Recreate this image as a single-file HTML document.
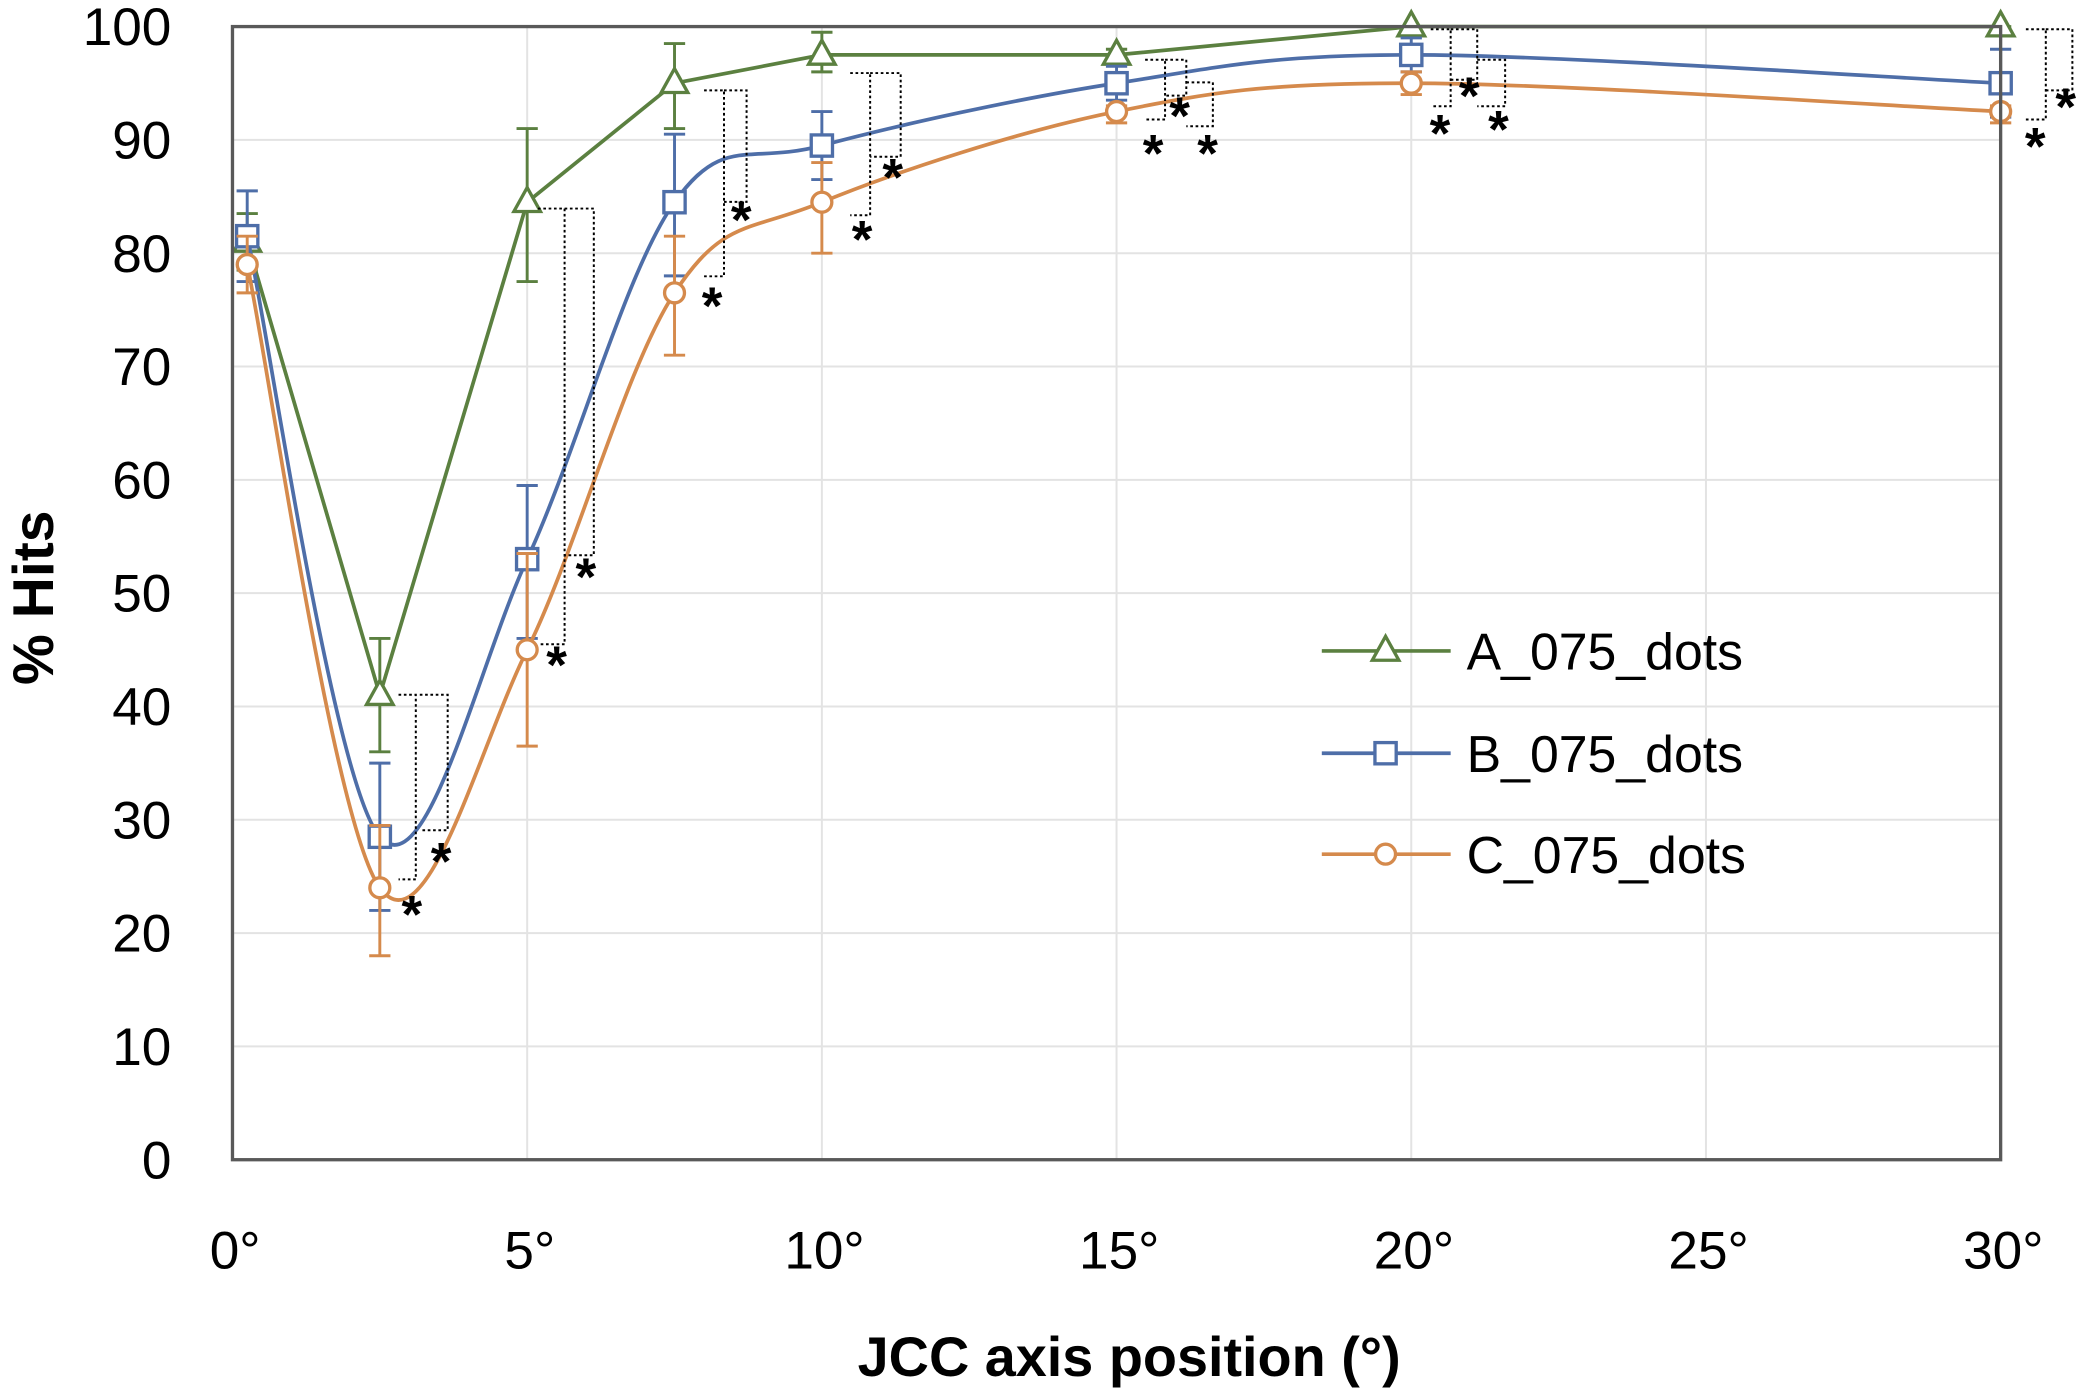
<!DOCTYPE html>
<html><head><meta charset="utf-8"><style>
html,body{margin:0;padding:0;background:#fff;}
svg{display:block;font-family:"Liberation Sans",sans-serif;}
</style></head><body>
<svg id="chart" width="2083" height="1389" viewBox="0 0 1568 1045.6" preserveAspectRatio="none" xmlns="http://www.w3.org/2000/svg"></svg>
<script>
const xPositions = [0.25, 2.5, 5, 7.5, 10, 15, 20, 30];
const seriesNames = ["A_075_dots", "B_075_dots", "C_075_dots"];
const valuesA = [81, 41, 84.5, 95, 97.5, 97.5, 100, 100];
const valuesB = [81.5, 28.5, 53, 84.5, 89.5, 95, 97.5, 95];
const valuesC = [79, 24, 45, 76.5, 84.5, 92.5, 95, 92.5];
const errLowA = [78.5, 36, 77.5, 91, 96, 97, 100, 100];
const errHighA = [83.5, 46, 91, 98.5, 99.5, 98, 100, 100];
const errLowB = [77.5, 22, 46, 78, 86.5, 93.5, 96, 92];
const errHighB = [85.5, 35, 59.5, 90.5, 92.5, 96.5, 99, 98];
const errLowC = [76.5, 18, 36.5, 71, 80, 91.5, 94, 91.5];
const errHighC = [81.5, 29.5, 53.5, 81.5, 88, 93, 96, 93];
const yTicks = [0, 10, 20, 30, 40, 50, 60, 70, 80, 90, 100];
const xTicks = [0, 5, 10, 15, 20, 25, 30];
const xTickLabels = ["0°", "5°", "10°", "15°", "20°", "25°", "30°"];

const svg = document.getElementById('chart');
const NS = 'http://www.w3.org/2000/svg';
const L = 175, R = 1506, T = 20, B = 873;
const xs = v => L + (v / 30) * (R - L);
const ys = v => B - (v / 100) * (B - T);
function mk(tag, attrs, parent) {
  const e = document.createElementNS(NS, tag);
  for (const k in attrs) e.setAttribute(k, attrs[k]);
  (parent || svg).appendChild(e);
  return e;
}
const grid = mk('g', {});


yTicks.forEach(t => { mk('line', {x1: L, x2: R, y1: ys(t), y2: ys(t), stroke: '#e3e3e3', 'stroke-width': 1.5}, grid); });
xTicks.forEach(t => { mk('line', {x1: xs(t), x2: xs(t), y1: T, y2: B, stroke: '#e3e3e3', 'stroke-width': 1.5}, grid); });
yTicks.forEach(t => {
  const tx = mk('text', {x: 129, y: ys(t) + 14, 'text-anchor': 'end', 'font-size': 40, fill: '#000'});
  tx.textContent = t;
  
  
});
xTicks.forEach((t, i) => {
  const tx = mk('text', {x: xs(t) + 2, y: 955, 'text-anchor': 'middle', 'font-size': 40, fill: '#000'});
  tx.textContent = xTickLabels[i];
  
  
});
const yt = mk('text', {x: 0, y: 0, transform: 'translate(40,450) rotate(-90)', 'text-anchor': 'middle', 'font-size': 43, 'font-weight': 'bold'});
yt.textContent = '% Hits';


const xt = mk('text', {x: 850, y: 1036, 'text-anchor': 'middle', 'font-size': 42, 'font-weight': 'bold'});
xt.textContent = 'JCC axis position (°)';



function smoothPath(pts) {
  let d = `M${pts[0][0]},${pts[0][1]}`;
  for (let i = 0; i < pts.length - 1; i++) {
    const p0 = pts[i - 1] || pts[i], p1 = pts[i], p2 = pts[i + 1], p3 = pts[i + 2] || p2;
    const t = 1 / 3;
    const c1 = [p1[0] + (p2[0] - p0[0]) * t / 2, p1[1] + (p2[1] - p0[1]) * t / 2];
    const c2 = [p2[0] - (p3[0] - p1[0]) * t / 2, p2[1] - (p3[1] - p1[1]) * t / 2];
    d += ` C${c1[0]},${c1[1]} ${c2[0]},${c2[1]} ${p2[0]},${p2[1]}`;
  }
  return d;
}
function marker(kind, x, y, color, parent) {
  if (kind === 'tri') return mk('polygon', {points: `${x},${y-11} ${x-10},${y+7} ${x+10},${y+7}`, fill: '#fff', stroke: color, 'stroke-width': 2.5}, parent);
  if (kind === 'sq') return mk('rect', {x: x-8, y: y-8, width: 16, height: 16, fill: '#fff', stroke: color, 'stroke-width': 2.5}, parent);
  return mk('circle', {cx: x, cy: y, r: 7.5, fill: '#fff', stroke: color, 'stroke-width': 2.5}, parent);
}
const series = [
  {vals: valuesA, lo: errLowA, hi: errHighA, color: '#5b8040', kind: 'tri', name: 'series-a', smooth: false},
  {vals: valuesB, lo: errLowB, hi: errHighB, color: '#4e6ea8', kind: 'sq', name: 'series-b', smooth: true},
  {vals: valuesC, lo: errLowC, hi: errHighC, color: '#d58a4c', kind: 'circ', name: 'series-c', smooth: true}
];
series.forEach(s => {
  const g = mk('g', {});
  
  
  s.vals.forEach((v, i) => {
    const x = xs(xPositions[i]);
    const eb = mk('path', {d: `M${x},${ys(s.lo[i])}V${ys(s.hi[i])}M${x-8},${ys(s.lo[i])}h16M${x-8},${ys(s.hi[i])}h16`, stroke: s.color, 'stroke-width': 2.2, fill: 'none'}, g);
    
    
  });
  const pts = s.vals.map((v, i) => [xs(xPositions[i]), ys(v)]);
  const d = s.smooth ? smoothPath(pts) : 'M' + pts.map(p => p.join(',')).join('L');
  const ln = mk('path', {d: d, stroke: s.color, 'stroke-width': 2.8, fill: 'none'}, g);
  
  
  pts.forEach(p => {
    const m = marker(s.kind, p[0], p[1], s.color, g);
    
    
  });
});
const brackets = [[300,313,523,662,310,702],[316,337,523,625,332,662],[405,425,157,485,419,514],[425,447,157,418,441,448],
 [530,545,68,208,536,244],[545,562,68,152,558,179],[640,655,55,162,649,194],[655,678,55,118,672,147],
 [862,877,45,90,868,129],[877,893,45,72,888,101],[893,913,62,95,909,129],[1077,1092,22,80,1084,114],
 [1092,1112,22,60,1106,86],[1112,1133,45,80,1128,111],[1525,1540,22,90,1532,124],[1540,1560,22,68,1555,94]];
const bg = mk('g', {});


brackets.forEach(b => {
  mk('path', {d: `M${b[0]},${b[2]}H${b[1]}V${b[3]}H${b[0]}`, stroke: '#000', 'stroke-width': 1.5, 'stroke-dasharray': '2,2', fill: 'none'}, bg);
  const st = mk('text', {x: b[4], y: b[5], 'text-anchor': 'middle', 'font-size': 40, 'font-weight': 'bold'}, bg);
  st.textContent = '*';
});
const border = mk('rect', {x: L, y: T, width: R - L, height: B - T, fill: 'none', stroke: '#595959', 'stroke-width': 2.5});


const lg = mk('g', {});


[490, 567, 643].forEach((y, i) => {
  const s = series[i];
  const e = mk('g', {}, lg);
  
  
  mk('line', {x1: 995, x2: 1092, y1: y, y2: y, stroke: s.color, 'stroke-width': 2.8}, e);
  marker(s.kind, 1043, y, s.color, e);
  const t = mk('text', {x: 1104, y: y + 14, 'font-size': 39}, e);
  t.textContent = seriesNames[i];
});
</script>
</body></html>
